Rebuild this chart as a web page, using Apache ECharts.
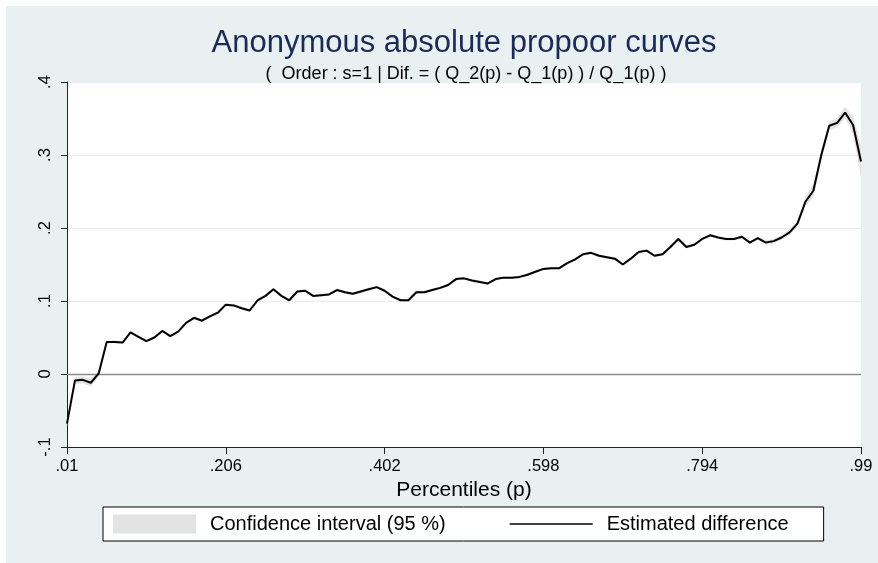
<!DOCTYPE html>
<html>
<head>
<meta charset="utf-8">
<script src="https://cdn.jsdelivr.net/npm/echarts@6/dist/echarts.min.js"></script>
<style>
  html, body { margin: 0; padding: 0; background: #ffffff; }
  #chart { width: 878px; height: 563px; }
</style>
</head>
<body>
<div id="chart"></div>
<script>
// Percentile grid: 101 points from p = .01 to p = .99
const pStart = 0.01;
const pStep = 0.0098;
const nPoints = 101;
const percentiles = Array.from({ length: nPoints }, (_, i) => +(pStart + i * pStep).toFixed(4));

// Tick labels on the percentile axis (every 20th point)
const xTickLabels = ['.01', '.206', '.402', '.598', '.794', '.99'];
const yTickLabels = { '-0.1': '-.1', '0': '0', '0.1': '.1', '0.2': '.2', '0.3': '.3', '0.4': '.4' };

// Estimated difference (Q_2(p) - Q_1(p)) / Q_1(p)
const estimated = [
  -0.068, -0.009, -0.008, -0.012, 0.001, 0.044, 0.044, 0.043, 0.057, 0.051,
   0.045,  0.050,  0.059,  0.052, 0.058, 0.070, 0.077, 0.073, 0.079, 0.084,
   0.095,  0.094,  0.090,  0.087, 0.101, 0.107, 0.116, 0.107, 0.101, 0.113,
   0.114,  0.107,  0.108,  0.109, 0.115, 0.112, 0.110, 0.113, 0.116, 0.119,
   0.114,  0.106,  0.101,  0.101, 0.112, 0.112, 0.115, 0.118, 0.122, 0.130,
   0.131,  0.128,  0.126,  0.124, 0.130, 0.132, 0.132, 0.133, 0.136, 0.140,
   0.144,  0.145,  0.145,  0.152, 0.157, 0.164, 0.166, 0.162, 0.160, 0.158,
   0.150,  0.158,  0.167,  0.169, 0.162, 0.164, 0.174, 0.185, 0.174, 0.177,
   0.185,  0.190,  0.187,  0.185, 0.185, 0.188, 0.180, 0.186, 0.180, 0.182,
   0.187,  0.194,  0.206,  0.236, 0.251, 0.300, 0.340, 0.344, 0.358, 0.341,
   0.291
];

// Half width of the 95 % confidence interval at each percentile
const ciHalfWidth = [
  0.003, 0.005, 0.005, 0.005, 0.004, 0.002, 0.002, 0.002, 0.002, 0.002,
  0.002, 0.002, 0.002, 0.002, 0.002, 0.002, 0.002, 0.002, 0.002, 0.002,
  0.002, 0.002, 0.002, 0.002, 0.002, 0.002, 0.002, 0.002, 0.002, 0.002,
  0.002, 0.002, 0.002, 0.002, 0.002, 0.002, 0.002, 0.002, 0.002, 0.002,
  0.002, 0.002, 0.002, 0.002, 0.002, 0.002, 0.002, 0.002, 0.002, 0.002,
  0.002, 0.002, 0.002, 0.002, 0.002, 0.002, 0.002, 0.002, 0.002, 0.002,
  0.002, 0.002, 0.002, 0.002, 0.002, 0.002, 0.002, 0.002, 0.002, 0.002,
  0.002, 0.002, 0.002, 0.002, 0.002, 0.002, 0.002, 0.002, 0.002, 0.002,
  0.002, 0.002, 0.002, 0.002, 0.002, 0.002, 0.002, 0.002, 0.003, 0.003,
  0.003, 0.004, 0.005, 0.007, 0.009, 0.007, 0.006, 0.006, 0.008, 0.012,
  0.022
];

// Band = lower bound + span stacked on top of it
const ciLower = estimated.map((v, i) => +(v - ciHalfWidth[i]).toFixed(4));
const ciSpan = ciHalfWidth.map(h => +(2 * h).toFixed(4));

const FONT = "'Liberation Sans', Arial, sans-serif";
const BAND = '#e3e3e3';
const LINE_ICON = 'path://M0,0 L60,0 L60,1 L0,1 Z';

const chart = echarts.init(document.getElementById('chart'), null, { renderer: 'canvas' });

chart.setOption({
  backgroundColor: '#ffffff',
  animation: false,
  graphic: [{
    type: 'rect', z: -10, silent: true,
    shape: { x: 6, y: 6, width: 872, height: 557 },
    style: { fill: '#e8f0f2' }
  }, {
    type: 'rect', z: -9, silent: true,
    shape: { x: 67, y: 82, width: 794, height: 365 },
    style: { fill: '#ffffff' }
  }],
  title: [{
    text: 'Anonymous absolute propoor curves',
    left: 459, top: 23, textAlign: 'center',
    textStyle: { fontFamily: FONT, fontSize: 31, fontWeight: 'normal', color: '#1c2b55' }
  }, {
    text: '(  Order : s=1 | Dif. = ( Q_2(p) - Q_1(p) ) / Q_1(p) )',
    left: 461, top: 60, textAlign: 'center',
    textStyle: { fontFamily: FONT, fontSize: 18, fontWeight: 'normal', color: '#000000' }
  }],
  legend: {
    left: 103, top: 507,
    padding: [7, 35, 7, 10],
    backgroundColor: '#ffffff',
    borderColor: '#000000', borderWidth: 1,
    itemWidth: 83, itemHeight: 19, itemGap: 64,
    textStyle: { fontFamily: FONT, fontSize: 20, color: '#000000', padding: [0, 0, 0, 9] },
    data: [
      { name: 'Confidence interval (95 %)', icon: 'rect',
        itemStyle: { color: BAND, borderWidth: 0 } },
      { name: 'Estimated difference', icon: LINE_ICON,
        itemStyle: { color: '#000000', borderWidth: 0 } }
    ]
  },
  grid: { left: 67, right: 17, top: 82, bottom: 116, containLabel: false },
  xAxis: {
    type: 'category',
    data: percentiles,
    boundaryGap: false,
    name: 'Percentiles (p)',
    nameLocation: 'middle',
    nameGap: 30,
    nameTextStyle: { fontFamily: FONT, fontSize: 21, color: '#000000' },
    axisLine: { onZero: false, lineStyle: { color: '#222222', width: 1 } },
    axisTick: { show: true, interval: 19, length: 7, lineStyle: { color: '#222222' } },
    axisLabel: {
      interval: 19, margin: 11,
      fontFamily: FONT, fontSize: 16.5, color: '#000000',
      formatter: (val, idx) => xTickLabels[Math.round(idx / 20)]
    },
    splitLine: { show: false }
  },
  yAxis: {
    type: 'value',
    min: -0.1, max: 0.4, interval: 0.1,
    axisLine: { show: true, lineStyle: { color: '#222222', width: 1 } },
    axisTick: { show: true, length: 6, lineStyle: { color: '#222222' } },
    axisLabel: {
      rotate: 90, margin: 13,
      fontFamily: FONT, fontSize: 16.5, color: '#000000',
      formatter: v => yTickLabels[String(+v.toFixed(1))]
    },
    splitLine: { show: true, lineStyle: { color: '#e6eef1', width: 1 } }
  },
  series: [{
    name: 'ciBase', type: 'line', stack: 'ci', stackStrategy: 'all',
    data: ciLower, symbol: 'none', silent: true,
    lineStyle: { opacity: 0 }, z: 1
  }, {
    name: 'Confidence interval (95 %)', type: 'line', stack: 'ci', stackStrategy: 'all',
    data: ciSpan, symbol: 'none', silent: true,
    color: BAND,
    lineStyle: { opacity: 0 },
    areaStyle: { color: BAND, opacity: 1 }, z: 2
  }, {
    name: 'Estimated difference', type: 'line',
    data: estimated, symbol: 'none', silent: true,
    color: '#000000',
    lineStyle: { color: '#000000', width: 2 }, z: 4,
    markLine: {
      silent: true, symbol: 'none', label: { show: false },
      lineStyle: { color: '#8a8a8a', width: 1.3, type: 'solid' },
      data: [{ yAxis: 0 }], z: 3
    }
  }]
});
</script>
</body>
</html>
